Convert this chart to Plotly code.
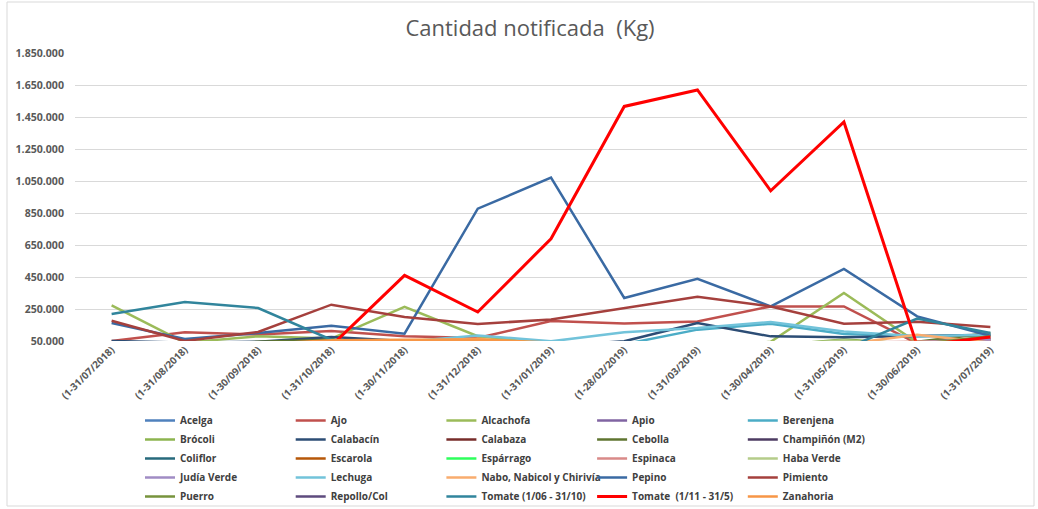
import plotly.graph_objects as go

months = ["(1-31/07/2018)", "(1-31/08/2018)", "(1-30/09/2018)", "(1-31/10/2018)",
          "(1-30/11/2018)", "(1-31/12/2018)", "(1-31/01/2019)", "(1-28/02/2019)",
          "(1-31/03/2019)", "(1-30/04/2019)", "(1-31/05/2019)", "(1-30/06/2019)",
          "(1-31/07/2019)"]

acelga      = [20000, 15000, 25000, 30000, 20000, 15000, 10000, 10000, 20000, 25000, 30000, 20000, 30000]
ajo         = [50000, 104000, 90000, 112000, 79000, 69000, 175000, 160000, 172000, 266000, 266000, 35000, 60000]
alcachofa   = [272000, 40000, 80000, 65000, 264000, 80000, 30000, 0, 0, 45000, 350000, 40000, 20000]
apio        = [0, 0, 0, 0, 0, 0, 0, 0, 0, 0, 10000, 45000, 70000]
berenjena   = [0, 0, 0, 0, 0, 0, 0, 30000, 121000, 158000, 94000, 80000, 85000]
brocoli     = [0, 30000, 40000, 50000, 40000, 30000, 0, 0, 0, 20000, 60000, 30000, 40000]
calabacin   = [50000, 40000, 45000, 75000, 50000, 40000, 20000, 48000, 162000, 79000, 73000, 79000, 89000]
calabaza    = [10000, 5000, 10000, 20000, 15000, 10000, 5000, 0, 0, 0, 10000, 20000, 30000]
cebolla     = [0, 20000, 45000, 58000, 40000, 30000, 10000, 0, 0, 0, 20000, 45000, 100000]
champinon   = [10000, 10000, 10000, 10000, 10000, 10000, 10000, 10000, 10000, 10000, 10000, 20000, 60000]
coliflor    = [0, 0, 10000, 20000, 20000, 10000, 0, 0, 0, 0, 0, 10000, 20000]
escarola    = [0, 0, 0, 10000, 20000, 20000, 10000, 0, 0, 0, 0, 0, 0]
esparrago   = [0, 0, 0, 0, 0, 0, 0, 0, 5000, 10000, 5000, 0, 0]
espinaca    = [30000, 40000, 30000, 45000, 40000, 30000, 20000, 10000, 20000, 30000, 40000, 45000, 50000]
haba_verde  = [0, 0, 0, 0, 0, 0, 0, 0, 10000, 20000, 55000, 20000, 0]
judia_verde = [0, 0, 0, 0, 0, 0, 0, 0, 0, 0, 10000, 45000, 60000]
lechuga     = [0, 0, 20000, 40000, 45000, 85000, 48000, 104000, 131000, 169000, 110000, 79000, 89000]
nabo        = [0, 0, 10000, 40000, 50000, 64000, 30000, 10000, 10000, 20000, 30000, 89000, 40000]
pepino      = [162000, 62000, 100000, 146000, 96000, 877000, 1071000, 319000, 439000, 266000, 500000, 204000, 83000]
pimiento    = [177000, 50000, 106000, 277000, 200000, 156000, 185000, 255000, 327000, 266000, 158000, 171000, 137000]
puerro      = [0, 0, 0, 10000, 10000, 10000, 0, 0, 0, 0, 10000, 30000, 80000]
repollo     = [10000, 0, 0, 10000, 20000, 20000, 10000, 0, 0, 0, 0, 10000, 20000]
tomate_v    = [219000, 294000, 256000, 58000, 0, 0, 0, 0, 0, 0, 0, 190000, 100000]
tomate_i    = [0, 0, 0, 20000, 460000, 231000, 689000, 1516000, 1619000, 989000, 1419000, 20000, 75000]
zanahoria   = [0, 10000, 30000, 55000, 58000, 60000, 40000, 20000, 10000, 20000, 30000, 45000, 40000]

names = ["Acelga", "Ajo", "Alcachofa", "Apio", "Berenjena",
         "Brócoli", "Calabacín", "Calabaza", "Cebolla", "Champiñón (M2)",
         "Coliflor", "Escarola", "Espárrago", "Espinaca", "Haba Verde",
         "Judía Verde", "Lechuga", "Nabo, Nabicol y Chirivía", "Pepino", "Pimiento",
         "Puerro", "Repollo/Col", "Tomate (1/06 - 31/10)", "Tomate  (1/11 - 31/5)", "Zanahoria"]
series = [acelga, ajo, alcachofa, apio, berenjena,
          brocoli, calabacin, calabaza, cebolla, champinon,
          coliflor, escarola, esparrago, espinaca, haba_verde,
          judia_verde, lechuga, nabo, pepino, pimiento,
          puerro, repollo, tomate_v, tomate_i, zanahoria]
colors = ["#4F81BD", "#C0504D", "#9BBB59", "#8064A2", "#4BACC6",
          "#8DB44F", "#2C4D75", "#772C2A", "#5F7530", "#4D3B62",
          "#276A7C", "#B65708", "#2EFF5C", "#D98A88", "#B5CC8A",
          "#A08CC4", "#72C3DA", "#F9AC6E", "#3A6AA3", "#A5403D",
          "#77933C", "#5E4B7E", "#31859C", "#FF0000", "#F79646"]

x = list(range(len(months)))

L, R, T, B = 75, 1027, 53, 341
W, H = 1038, 509
pw, ph = R - L, B - T

fig = go.Figure()
for i, (n, s, c) in enumerate(zip(names, series, colors)):
    col = i % 5
    lg = "legend" if col == 0 else f"legend{col + 1}"
    fig.add_trace(go.Scatter(
        x=x, y=s, name=n, mode="lines",
        line=dict(color=c, width=3 if n.startswith("Tomate  ") else 2.5),
        legend=lg, hoverinfo="skip"))

legend_font = dict(family="Open Sans", size=10, color="#404040", weight="bold")
col_x = [140, 290.7, 441.4, 592.1, 742.8]
leg_top = 406
legends = {}
for k, cx in enumerate(col_x):
    key = "legend" if k == 0 else f"legend{k + 1}"
    legends[key] = dict(
        x=(cx - L) / pw, y=(B - leg_top) / ph, xanchor="left", yanchor="top",
        orientation="v", font=legend_font, bgcolor="rgba(0,0,0,0)",
        tracegroupgap=0, borderwidth=0)

tick_font_y = dict(family="Open Sans", size=10.6, color="#595959", weight="bold")
tick_font_x = dict(family="Open Sans", size=10, color="#595959", weight="bold")

fig.update_layout(
    width=W, height=H,
    margin=dict(l=L, r=W - R, t=T, b=H - B, pad=0, autoexpand=False),
    paper_bgcolor="white", plot_bgcolor="white",
    separators=",.",
    title=dict(text="Cantidad notificada  (Kg)", x=530 / W, xanchor="center",
               y=1 - 28 / H, yanchor="middle",
               font=dict(family="Open Sans", size=22, color="#595959")),
    xaxis=dict(tickmode="array", tickvals=x, ticktext=months, range=[-0.5, len(months) - 0.5],
               tickangle=-45, showgrid=False, zeroline=False, showline=False, ticks="",
               automargin=False, tickfont=tick_font_x),
    yaxis=dict(range=[50000, 1850000], tickmode="array",
               tickvals=[50000 + 200000 * i for i in range(10)],
               tickformat=",d", showgrid=True, gridcolor="#D9D9D9", gridwidth=1,
               zeroline=False, showline=False, ticks="", ticklabelstandoff=10,
               automargin=False, tickfont=tick_font_y),
    showlegend=True,
    **legends,
)

fig.add_shape(type="rect", xref="paper", yref="paper",
              x0=(7 - L) / pw, x1=(1034 - L) / pw, y0=(B - 506) / ph, y1=(B - 2) / ph,
              line=dict(color="#D9D9D9", width=1), fillcolor="rgba(0,0,0,0)", layer="below")

fig.write_html("out.html", config={"displayModeBar": False},
               post_script="document.body.style.margin='0';document.body.style.overflow='hidden';")
